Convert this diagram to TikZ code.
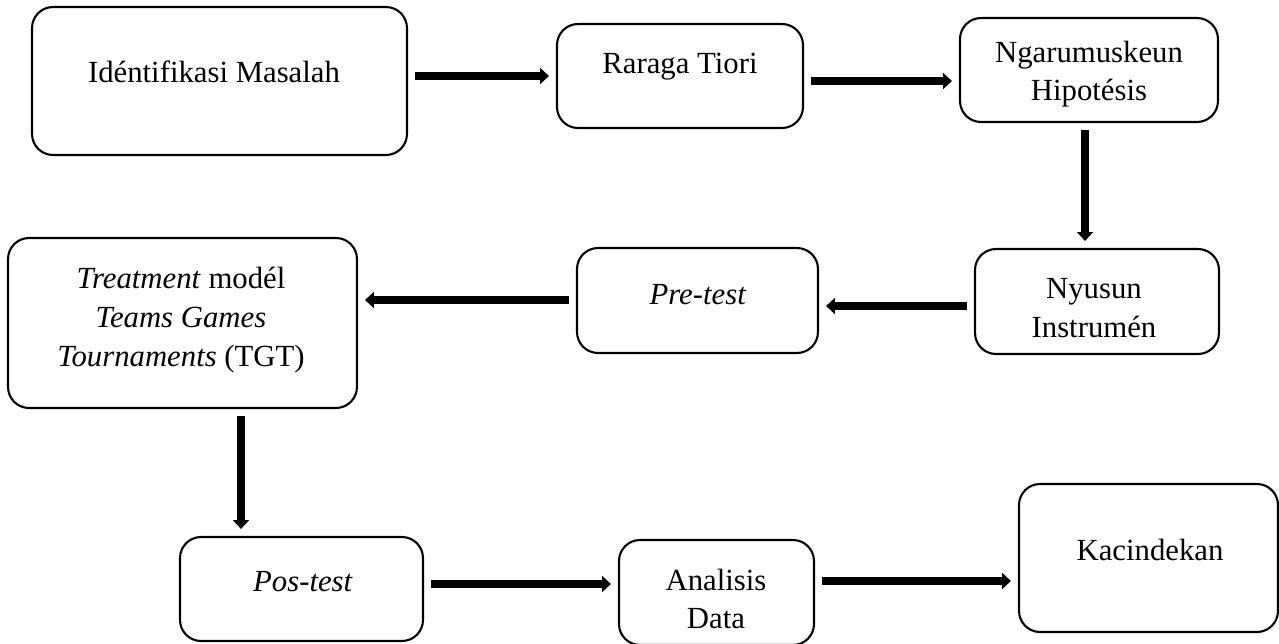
\documentclass[tikz,border=0pt]{standalone}
\usepackage{fontspec}
\setmainfont{Liberation Serif}
\usetikzlibrary{arrows.meta}
\tikzstyle{box}=[rectangle,rounded corners=0.42cm,draw=black,line width=1.2pt,
  inner sep=0pt]
\tikzstyle{txt}=[align=center,inner sep=0pt,font=\fontsize{17.5pt}{22pt}\selectfont]
\tikzstyle{arr}=[line width=4pt,-{Triangle[width=9pt,length=5pt]},
  shorten <=4pt,shorten >=4pt]

\begin{document}
\begin{tikzpicture}[x=0.02cm,y=-0.02cm]
    \useasboundingbox (0,0) rectangle (1279,643);
    % boxes
    \node [style=box,minimum width=7.5cm,minimum height=2.96cm] (idm) at (219.5,81) {};
    \node [style=box,minimum width=4.92cm,minimum height=2.08cm] (rar) at (680,76) {};
    \node [style=box,minimum width=5.16cm,minimum height=2.08cm] (hip) at (1089,70) {};
    \node [style=box,minimum width=4.88cm,minimum height=2.1cm] (nys) at (1097,301.5) {};
    \node [style=box,minimum width=4.82cm,minimum height=2.1cm] (pre) at (697.5,300.5) {};
    \node [style=box,minimum width=6.98cm,minimum height=3.4cm] (trt) at (182.5,323) {};
    \node [style=box,minimum width=4.86cm,minimum height=2.08cm] (pos) at (301.5,589) {};
    \node [style=box,minimum width=3.9cm,minimum height=2.1cm] (ana) at (716.5,592.5) {};
    \node [style=box,minimum width=5.18cm,minimum height=2.96cm] (kac) at (1148.5,558) {};
    % texts
    \node [style=txt] (idmtxt) at (214,72) {Idéntifikasi Masalah};
    \node [style=txt] (rartxt) at (680,67) {Raraga Tiori};
    \node [style=txt] (hiptxt) at (1089,74) {Ngarumuskeun\\Hipotésis};
    \node [style=txt] (nystxt) at (1094,308) {Nyusun\\Instrumén};
    \node [style=txt] (pretxt) at (698,295) {\textit{Pre-test}};
    \node [style=txt] (trttxt) at (181,320) {\textit{Treatment} modél\\\textit{Teams Games}\\\textit{Tournaments} (TGT)};
    \node [style=txt] (postxt) at (303,582) {\textit{Pos-test}};
    \node [style=txt] (anatxt) at (716,599) {Analisis\\Data};
    \node [style=txt] (kactxt) at (1150,550) {Kacindekan};
    % arrows
    \draw [style=arr] (idm.east |- 0,76) to (rar.west |- 0,76);
    \draw [style=arr] (rar.east |- 0,81) to (hip.west |- 0,81);
    \draw [style=arr] (hip.south -| 1085,0) to (nys.north -| 1085,0);
    \draw [style=arr] (nys.west |- 0,306) to (pre.east |- 0,306);
    \draw [style=arr] (pre.west |- 0,300) to (trt.east |- 0,300);
    \draw [style=arr] (trt.south -| 241,0) to (pos.north -| 241,0);
    \draw [style=arr] (pos.east |- 0,584) to (ana.west |- 0,584);
    \draw [style=arr] (ana.east |- 0,581) to (kac.west |- 0,581);
\end{tikzpicture}
\end{document}
